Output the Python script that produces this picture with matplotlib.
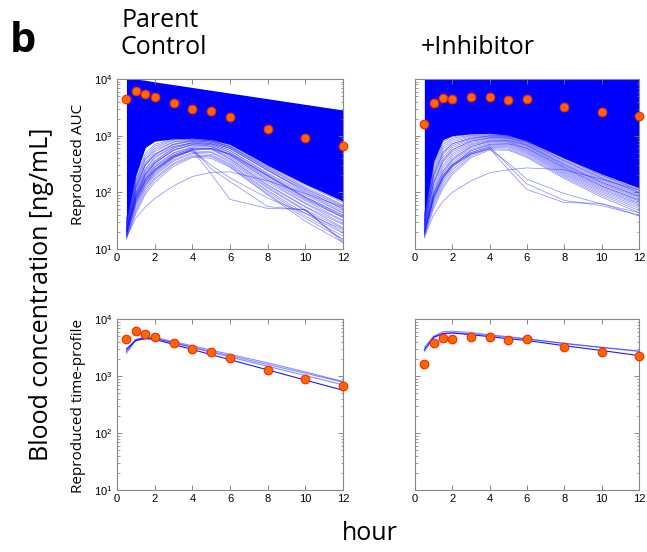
import numpy as np
import matplotlib
matplotlib.use('Agg')
import matplotlib.pyplot as plt

plt.rcParams['font.family'] = ['Liberation Sans Narrow', 'Liberation Sans', 'DejaVu Sans']

# sampling times (h)
times = [0.5, 1, 1.5, 2, 3, 4, 5, 6, 8, 10, 12]

# observed blood concentration (ng/mL)
obs_control = [4390, 6060, 5430, 4750, 3770, 2990, 2690, 2100, 1290, 900, 667]
obs_inhib = [1630, 3820, 4680, 4440, 4880, 4810, 4210, 4440, 3250, 2650, 2250]

# dense band of simulated profiles (upper / lower edge)
band_hi_control = [10000, 10000, 9500, 8900, 7950, 7090, 6320, 5640, 4490, 3570, 2840]
band_lo_control = [30, 200, 620, 800, 880, 900, 850, 700, 300, 140, 70]
band_hi_inhib = [10000, 10000, 10000, 10000, 10000, 10000, 10000, 10000, 10000, 10000, 10000]
band_lo_inhib = [38, 350, 850, 1000, 1080, 1100, 1020, 800, 400, 210, 120]

# individual simulated profiles below the band
fan_control = [
    [34, 190, 480, 700, 880, 900, 860, 720, 330, 160, 85],
    [32, 165, 430, 650, 850, 880, 830, 690, 310, 150, 78],
    [30, 160, 390, 600, 830, 870, 800, 640, 280, 125, 60],
    [29, 145, 370, 560, 780, 860, 810, 620, 270, 118, 58],
    [28, 140, 330, 520, 770, 820, 760, 600, 240, 110, 50],
    [27, 128, 310, 470, 720, 800, 770, 590, 245, 100, 47],
    [26, 120, 300, 450, 690, 790, 730, 550, 220, 96, 44],
    [25, 118, 260, 420, 650, 750, 720, 545, 210, 90, 43],
    [24, 110, 250, 400, 640, 740, 690, 510, 200, 84, 39],
    [23, 102, 235, 360, 610, 720, 700, 500, 195, 80, 37],
    [22, 95, 210, 335, 560, 690, 660, 470, 178, 74, 36],
    [21, 92, 205, 325, 545, 680, 650, 455, 168, 71, 32],
    [20, 84, 190, 300, 500, 640, 635, 445, 162, 65, 31],
    [20, 80, 168, 282, 490, 615, 600, 420, 150, 63, 28],
    [19, 76, 160, 255, 455, 600, 590, 395, 138, 56, 27],
    [18, 70, 152, 240, 420, 575, 570, 385, 132, 55, 24],
    [18, 66, 138, 228, 410, 540, 520, 362, 124, 49, 23],
    [17, 60, 132, 205, 375, 505, 505, 340, 118, 47, 20],
    [17, 56, 120, 196, 355, 485, 470, 318, 108, 42, 19],
    [16, 50, 112, 178, 325, 455, 445, 305, 102, 38, 17],
    [16, 46, 100, 168, 310, 430, 425, 288, 94, 35, 15],
    [15, 42, 92, 150, 288, 412, 400, 276, 90, 31, 13],
    [22, 98, 220, 350, 600, 760, 780, 650, 260, 115, 55],
    [25, 125, 300, 470, 700, 830, 820, 660, 290, 135, 66],
    [21, 88, 200, 320, 560, 700, 720, 600, 250, 105, 52],
    [19, 72, 150, 240, 430, 580, 600, 480, 200, 82, 40],
    [18, 65, 135, 220, 400, 560, 580, 470, 190, 78, 36],
    [16, 35, 55, 78, 130, 190, 225, 230, 160, 95, 55],
    [20, 75, 160, 250, 430, 560, 210, 75, 52, 50, 13],
    [22, 85, 180, 280, 460, 600, 260, 155, 56, 49, 14],
    [21, 80, 170, 260, 440, 540, 300, 180, 79, 43, 22],
]
fan_inhib = [
    [40, 360, 860, 1020, 1090, 1100, 1040, 830, 420, 230, 130],
    [38, 320, 780, 960, 1060, 1080, 1010, 800, 400, 215, 122],
    [36, 290, 700, 900, 1020, 1050, 990, 780, 380, 200, 115],
    [34, 260, 640, 840, 990, 1030, 970, 760, 360, 190, 108],
    [32, 230, 580, 780, 950, 1000, 950, 730, 345, 180, 102],
    [31, 210, 520, 720, 910, 980, 920, 710, 330, 172, 98],
    [30, 190, 470, 670, 880, 950, 900, 690, 315, 165, 94],
    [28, 170, 420, 620, 840, 920, 880, 670, 300, 158, 90],
    [27, 150, 380, 570, 800, 890, 850, 650, 290, 150, 86],
    [26, 140, 340, 520, 760, 860, 820, 630, 280, 144, 82],
    [25, 125, 300, 480, 720, 830, 800, 600, 268, 138, 78],
    [24, 112, 270, 440, 690, 800, 780, 585, 255, 130, 74],
    [23, 100, 240, 400, 650, 770, 760, 560, 245, 124, 70],
    [22, 92, 215, 360, 610, 740, 730, 540, 235, 118, 66],
    [21, 84, 195, 330, 570, 710, 700, 520, 225, 112, 63],
    [20, 76, 175, 300, 540, 680, 670, 500, 215, 106, 60],
    [19, 70, 160, 275, 500, 650, 640, 480, 205, 100, 56],
    [18, 64, 145, 250, 470, 620, 610, 455, 195, 94, 52],
    [17, 58, 130, 225, 440, 590, 580, 430, 185, 88, 48],
    [16, 52, 118, 205, 410, 560, 555, 410, 175, 82, 44],
    [30, 200, 500, 720, 900, 990, 980, 820, 400, 200, 110],
    [26, 150, 360, 560, 800, 920, 910, 760, 360, 180, 100],
    [22, 100, 230, 380, 640, 800, 820, 680, 310, 150, 85],
    [20, 80, 180, 300, 540, 700, 720, 600, 270, 130, 72],
    [16, 40, 70, 100, 160, 222, 250, 270, 250, 170, 110],
    [18, 80, 180, 290, 480, 600, 250, 112, 66, 64, 38],
    [20, 90, 200, 310, 500, 640, 300, 140, 72, 58, 40],
    [19, 85, 190, 300, 470, 580, 330, 170, 95, 62, 44],
]

# fitted time-profiles
fit_control = [
    [2500, 4300, 4700, 4600, 3850, 3230, 2700, 2270, 1590, 1115, 780],
    [2800, 4400, 4850, 4750, 4000, 3400, 2850, 2400, 1700, 1180, 800],
    [2700, 4250, 4650, 4550, 3800, 3150, 2600, 2150, 1480, 1020, 700],
    [3000, 4200, 4500, 4400, 3580, 2915, 2370, 1930, 1280, 848, 562],
]
fit_inhib = [
    [2700, 4700, 5500, 5700, 5500, 5100, 4750, 4450, 3700, 3150, 2700],
    [3200, 5000, 6000, 6100, 5800, 5300, 4900, 4500, 3750, 3200, 2750],
    [2900, 4800, 5600, 5700, 5300, 4900, 4500, 4200, 3400, 2800, 2280],
]

fig = plt.figure(figsize=(6.47, 5.52), dpi=100)
W, H = 647, 552


def add_ax(x0, x1, y0, y1):
    return fig.add_axes([x0 / W, 1 - y1 / H, (x1 - x0) / W, (y1 - y0) / H])


def style(ax, ylabels=True):
    ax.set_yscale('log')
    ax.set_ylim(10, 1e4)
    ax.set_xlim(0, 12)
    ax.set_xticks(range(0, 13, 2))
    ax.tick_params(which='both', direction='in', top=True, right=True,
                   color='#777777', labelsize=8, pad=3)
    ax.tick_params(which='major', length=3.5, width=0.6)
    ax.tick_params(which='minor', length=1.8, width=0.5)
    for s in ax.spines.values():
        s.set_color('#888888')
        s.set_linewidth(0.8)
    if not ylabels:
        ax.tick_params(labelleft=False)


def dots(ax, y):
    ax.plot(times, y, 'o', ms=6.2, mfc='#ff6a00', mec='#ff2200', mew=0.8,
            clip_on=False, zorder=5)


axes = [
    add_ax(117, 343, 79, 249),
    add_ax(415, 639, 79, 249),
    add_ax(117, 343, 319, 490),
    add_ax(415, 639, 319, 490),
]

# upper row: all simulated profiles
for ax, hi, lo, fan, obs in [(axes[0], band_hi_control, band_lo_control, fan_control, obs_control),
                             (axes[1], band_hi_inhib, band_lo_inhib, fan_inhib, obs_inhib)]:
    ax.fill_between(times, lo, hi, color='#0000ff', lw=0, zorder=1)
    for y in fan:
        ax.plot(times, y, color='#1010ff', lw=0.5, alpha=0.5, zorder=2)
    dots(ax, obs)

# lower row: profiles fitted to the observed time-course
for ax, fits, obs in [(axes[2], fit_control, obs_control),
                      (axes[3], fit_inhib, obs_inhib)]:
    for i, y in enumerate(fits):
        ax.plot(times, y, color='#0000ff', lw=0.8, alpha=0.9 if i == len(fits) - 1 else 0.45,
                zorder=2)
    dots(ax, obs)

style(axes[0])
style(axes[1], ylabels=False)
style(axes[2])
style(axes[3], ylabels=False)

big = ['Open Sans', 'DejaVu Sans']
fig.text(10 / W, 1 - 52 / H, 'b', fontsize=30, fontweight='bold', family=big)
fig.text(121 / W, 1 - 27 / H, 'Parent', fontsize=18, family=big)
fig.text(121 / W, 1 - 54 / H, 'Control', fontsize=18, family=big)
fig.text(421 / W, 1 - 54 / H, '+Inhibitor', fontsize=18, family=big)
fig.text(42 / W, 1 - 294 / H, 'Blood concentration [ng/mL]', fontsize=18, family=big,
         rotation=90, ha='center', va='center')
fig.text(370 / W, 1 - 533 / H, 'hour', fontsize=18, family=big, ha='center', va='center')
fig.text(78 / W, 1 - 164 / H, 'Reproduced AUC', fontsize=11, family=big,
         rotation=90, ha='center', va='center')
fig.text(78 / W, 1 - 406 / H, 'Reproduced time-profile', fontsize=11, family=big,
         rotation=90, ha='center', va='center')

fig.savefig('out.png', dpi=100)
